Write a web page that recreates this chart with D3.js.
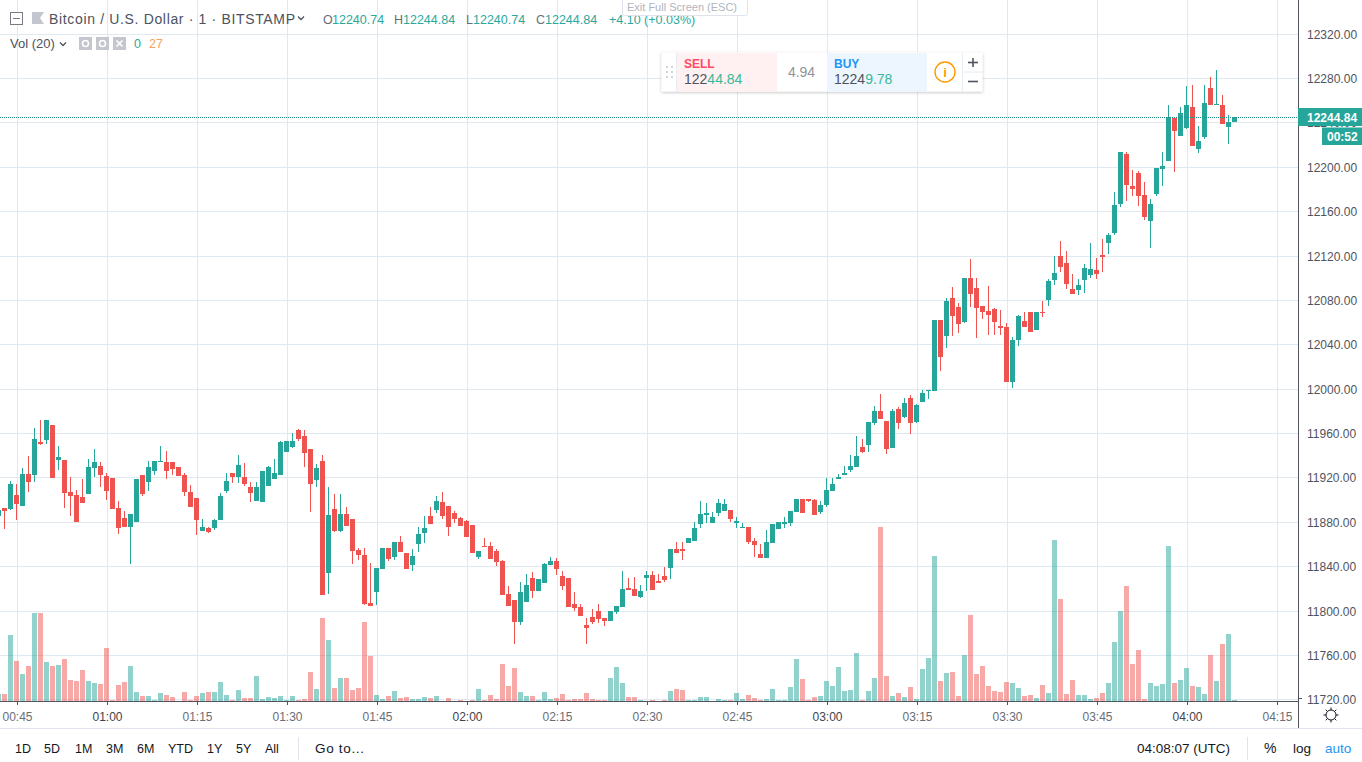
<!DOCTYPE html>
<html><head><meta charset="utf-8">
<script src="https://cdn.jsdelivr.net/npm/d3@7/dist/d3.min.js"></script>
<style>html,body{margin:0;padding:0;background:#fff;overflow:hidden}svg{display:block}text{font-family:"Liberation Sans",Arial,sans-serif}</style>
</head><body><svg id="c" width="1362" height="762"></svg>
<script>
const firstMinute = 42; // minutes after 00:00 of first bar, 00:42
const opens = [11885.6,11892.8,11891.9,11904.5,11894.6,11923.4,11922.5,11952.2,11954,11967.5,
11936,11936,11907.2,11904.5,11902.7,11905.4,11928.8,11930.6,11921.6,11919.8,
11892.8,11883.8,11875.7,11880.2,11922.5,11916.2,11926.1,11934.2,11934.2,11934.2,
11929.7,11922.5,11907.2,11901.8,11872.1,11874.8,11874.8,11882,11908.1,11924.3,
11920.7,11920.7,11911.7,11899.1,11898.2,11912.6,11918.9,11922.5,11943.2,11947.7,
11963,11957.6,11945.9,11918,11935,11834.3,11891.9,11872.1,11887.4,11882.9,
11855,11850.5,11807.3,11817.2,11837.9,11856.8,11848.7,11862.2,11852.3,11841.5,
11860.4,11870.3,11885.6,11891,11898.2,11894.6,11888.3,11883.8,11881.1,11877.5,
11848.7,11858.6,11858.6,11854.1,11845.1,11815.4,11810,11790.2,11808.2,11829.8,
11818.1,11825.3,11841.5,11845.1,11831.6,11829.8,11806.4,11803.7,11787.5,11794.7,
11800.1,11793.8,11791.1,11799.2,11803.7,11821.2,11820.3,11813.1,11830.2,11832.9,
11827.5,11832,11839.2,11856.3,11856.3,11861.7,11863.5,11878.8,11886.9,11879.7,
11888.7,11890.5,11891.4,11879.7,11875.2,11876.1,11863.5,11851.8,11848.2,11861.7,
11874.3,11878.8,11879.7,11889.6,11901.3,11901.3,11900.4,11889.6,11895.9,11908.5,
11919.3,11922.9,11927.4,11930.1,11948.1,11949.9,11969.7,11980.5,11971.5,11947.2,
11982.3,11975.1,11992.2,11970.6,11988,11997.9,11997.9,12062.7,12048.3,12082.5,
12074.4,12060.9,12100.5,12091.5,12075.3,12070.8,12072.6,12057.3,12056.4,12006,
12044.7,12061.8,12069.9,12053.7,12069.9,12080.7,12098.7,12120.3,12114,12090.6,
12089.7,12098.7,12103.2,12107.7,12121.2,12131.8,12140.8,12166.9,12211.9,12183.1,
12194.8,12175,12151.6,12175.9,12198.4,12205.6,12244.3,12228.1,12235.3,12254.2,
12216.4,12227.2,12271.3,12256,12256,12236.2,12240.74];
const highs = [11891,11892.8,11917.1,11914.4,11928.8,11939.6,11964.8,11972,11972,11967.5,
11948.6,11936,11920.7,11909,11918.9,11936.9,11945.9,11934.2,11924.3,11919.8,
11899.1,11890.1,11887.4,11918.9,11922.5,11935.1,11935.1,11948.6,11944.1,11934.2,
11929.7,11924.3,11913.5,11901.8,11882.9,11875.7,11882.9,11906.3,11924.3,11924.3,
11940.5,11933.3,11916.2,11916.2,11926.1,11930.6,11936.9,11953.1,11953.1,11960.3,
11963.9,11963,11945.9,11932.4,11941,11911.7,11905.4,11905.4,11893.7,11882.9,
11856.8,11856.8,11843.3,11838.8,11856.8,11856.8,11862.2,11867.6,11852.3,11855.9,
11875.7,11885.6,11893.7,11903.6,11907.2,11894.6,11890.1,11884.7,11882,11877.5,
11854.1,11865.8,11862.2,11855.9,11846,11822.6,11810,11826.2,11833.4,11835.2,
11828.9,11843.3,11848.7,11847.8,11836.1,11829.8,11817.2,11806.4,11793.8,11801.9,
11806.4,11793.8,11800.1,11804.6,11836.1,11830.2,11831.1,11823.9,11836.5,11836.5,
11833.8,11840.1,11856.3,11862.6,11862.6,11866.2,11880.6,11899.5,11897.7,11889.6,
11901.3,11901.3,11891.4,11885.1,11879.7,11876.1,11866.2,11860.8,11873.4,11878.8,
11880.6,11885.1,11890.5,11901.3,11901.3,11901.3,11901.3,11899.5,11920.2,11920.2,
11923.8,11931,11940.9,11958,11955.3,11970.6,11985,11995.8,11971.5,11982.3,
11984.1,11992.2,11994.9,11986.8,11998.8,11998.8,12062.7,12062.7,12082.5,12092.4,
12078,12100.5,12117.6,12100.5,12075.3,12093.3,12073.5,12071.7,12060,12047.4,
12067.2,12069.9,12069.9,12069.9,12079.8,12099.6,12120.3,12133.8,12124.8,12104.1,
12099.6,12113.1,12132,12118.5,12135.6,12140.8,12177.7,12213.7,12213.7,12197.5,
12196.6,12186.7,12171.4,12199.3,12213.7,12256,12244.3,12254.2,12273.1,12274,
12237.1,12274,12281.2,12287.5,12265,12247,12244.84];
const lows = [11885.6,11873.9,11891,11882,11894.6,11907.2,11916.2,11949.5,11950.4,11919.8,
11927,11892.8,11885.6,11880.2,11897.3,11905.4,11920.7,11911.7,11900,11891.9,
11869.4,11875.7,11842.4,11880.2,11903.6,11908.1,11922.5,11934.2,11918.9,11922.5,
11921.6,11903.6,11893.7,11868.5,11872.1,11870.3,11873,11882,11906.3,11915.3,
11915.3,11912.6,11898.2,11899.1,11898.2,11912.6,11918.9,11922.5,11943.2,11946.8,
11953.1,11929.7,11889.2,11911.7,11814.5,11815.4,11871.2,11871.2,11876.6,11842.4,
11846,11805.5,11804.6,11805.5,11837.9,11845.1,11846,11853.2,11837.9,11836.1,
11853.2,11861.3,11878.4,11888.3,11882.9,11867.6,11879.3,11876.6,11866.7,11852.3,
11846.9,11857.7,11846.9,11840.6,11814.5,11804.6,11770.4,11787.5,11808.2,11811.8,
11818.1,11825.3,11841.5,11832.5,11819,11803.7,11800.1,11795.6,11770.4,11788.4,
11789.3,11786.6,11791.1,11797.4,11803.7,11819.4,11814,11812.2,11818.5,11819.4,
11825.7,11826.6,11829.3,11852.7,11846.4,11861.7,11863.5,11875.2,11879.7,11879.7,
11886,11890.5,11880.6,11875.2,11875.2,11860.8,11849.1,11848.2,11848.2,11861.7,
11874.3,11875.2,11877,11889.6,11888.7,11898.6,11886.9,11887.8,11894.1,11908.5,
11919.3,11922.9,11925.6,11930.1,11942.7,11943.6,11967.9,11973.3,11941.8,11947.2,
11964.3,11974.2,11959.8,11969.7,11988,11990.7,11997.9,12016.8,12037.5,12048.3,
12051,12060,12074.4,12046.5,12063.6,12049.2,12049.2,12049.2,12006,12000.6,
12039.3,12056.4,12051.9,12053.7,12065.4,12075.3,12094.2,12105.9,12090.6,12086.1,
12085.2,12087,12100.5,12099.6,12105.9,12121.9,12139,12164.2,12169.6,12174.1,
12165.1,12152.5,12127.3,12174.1,12183.1,12205.6,12195.7,12228.1,12234.4,12219.1,
12212.8,12225.4,12256,12256,12238.9,12220.9,12240.74];
const closes = [11891,11890.1,11914.4,11896.4,11923.4,11916.2,11954.9,11950.4,11972,11919.8,
11938.7,11906.3,11903.6,11880.2,11897.3,11929.7,11934.2,11922.5,11908.1,11891.9,
11874.8,11875.7,11887.4,11918.9,11905.4,11929.7,11935.1,11935.1,11926.1,11927.9,
11921.6,11907.2,11893.7,11882,11875.7,11871.2,11882,11903.6,11917.1,11920.7,
11931.5,11914.4,11906.3,11911.7,11926.1,11929.7,11924.3,11952.2,11953.1,11953.1,
11954.9,11942.3,11914.4,11928.8,11814.5,11886.5,11872.1,11887.4,11876.6,11854.1,
11850.5,11806.4,11804.6,11838.8,11856.8,11846.9,11862.2,11853.2,11837.9,11849.6,
11869.4,11874.8,11878.4,11899.1,11885.6,11875.7,11882.9,11876.6,11866.7,11852.3,
11854.1,11857.7,11846.9,11844.2,11814.5,11804.6,11790.2,11817.2,11823.5,11818.1,
11828.9,11842.4,11845.1,11837.9,11822.6,11803.7,11802.8,11795.6,11784.8,11790.2,
11792.9,11791.1,11800.1,11804.6,11819.9,11819.4,11814,11818.5,11832.9,11819.4,
11825.7,11828.4,11856.3,11852.7,11854.5,11866.2,11875.2,11887.8,11888.7,11885.1,
11897.7,11896.8,11883.3,11881.5,11876.1,11862.6,11859.9,11848.2,11862.6,11878.8,
11880.6,11880.6,11890.5,11901.3,11888.7,11899.5,11886.9,11895.9,11909.4,11914.8,
11921.1,11924.7,11931,11940,11943.6,11970.6,11980.5,11973.3,11946.3,11980.5,
11969.7,11987.7,11969.7,11985.9,11996.1,11998.8,12062.7,12029.4,12079.8,12066.3,
12059.1,12100.5,12086.1,12073.5,12069.9,12067.2,12060.9,12055.5,12006,12044.7,
12066.3,12056.4,12051.9,12069.9,12069,12097.8,12105,12110.4,12095.1,12086.1,
12094.2,12109.5,12108.6,12104.1,12119.4,12139,12166,12213.7,12184,12180.4,
12174.1,12155.2,12166.9,12199.3,12201.1,12245.2,12232.6,12248.8,12256,12219.1,
12223.6,12257.8,12256,12256.9,12238.9,12240.7,12244.84];
const volumes = [7,7,66,40,27,35,88,88,39,35,
36,42,21,20,31,20,18,17,53,1,
16,19,35,9,5,5,1,8,6,4,
.5,9,1,5,8,9,9,19,6,1,
11,3,3,25,2,4,3,5,1,5,
1,2,29,12,83,61,13,23,23,11,
13,79,45,6,2,5,10,3,4,2,
2,4,3,5,.3,3,.3,1,.3,1,
12,1,6,2,37,15,33,9,5,5,
1,9,2,3,7,1,2,2,8,2,
1,1,23,34,18,4,4,1,.3,1,
.3,1,10,12,11,1,1,4,4,.3,
2,1,1,8,2,6,3,1,2,12,
1,1,14,42,22,1,4,5,20,15,
34,10,11,48,1,10,23,174,25,5,
8,4,14,2,32,43,145,20,28,29,
5,46,86,27,35,15,10,9,19,18,
13,5,6,3,16,8,161,102,7,21,
6,6,2,3,8,18,59,90,115,37,
51,2,18,15,17,155,18,21,33,15,
14,7,46,20,57,67,1];
const priceTicks = [12320,12280,12240,12200,12160,12120,12080,12040,12000,11960,11920,11880,11840,11800,11760,11720];
const timeTicks = [[45,"00:45"],[60,"01:00"],[75,"01:15"],[90,"01:30"],[105,"01:45"],[120,"02:00"],[135,"02:15"],[150,"02:30"],[165,"02:45"],[180,"03:00"],[195,"03:15"],[210,"03:30"],[225,"03:45"],[240,"04:00"],[255,"04:15"]];
const lastPrice = 12244.84;
const rangeLabels = [["1D",15],["5D",44],["1M",75],["3M",106],["6M",137],["YTD",168],["1Y",207],["5Y",236],["All",265]];

const UP="#26a69a", DOWN="#ef5350", GRID="#e1e9f0", AXIS="#50535e", TXT="#4f5360";
const svg=d3.select("#c");
const x=d3.scaleLinear().domain([45,255]).range([16.5,1276.5]);
const y=d3.scaleLinear().domain([11720,12320]).range([699.8,34.1]);
const v=d3.scaleLinear().domain([0,174]).range([701,527]);
const bars=opens.map((o,i)=>({m:firstMinute+i,o,h:highs[i],l:lows[i],c:closes[i],vol:volumes[i],up:closes[i]>=o}));
const px=n=>Math.floor(n)+.5;

function T(s,xp,yp,o={}){const t=svg.append("text").attr("x",xp).attr("y",yp).attr("font-size",o.size||13).attr("fill",o.fill||"#131722")
  .attr("text-anchor",o.anchor||"start").attr("font-weight",o.weight||"normal").text(s);
  if(o.len)t.attr("textLength",o.len).attr("lengthAdjust","spacing");return t;}
function L(a,b,c,d,col,w=1){return svg.append("line").attr("x1",a).attr("y1",b).attr("x2",c).attr("y2",d).attr("stroke",col).attr("stroke-width",w);}
function R(a,b,w,h,f,s){const r=svg.append("rect").attr("x",a).attr("y",b).attr("width",w).attr("height",h).attr("fill",f);if(s)r.attr("stroke",s);return r;}

// grid
svg.append("g").selectAll("line").data(priceTicks).join("line").attr("x1",0).attr("x2",1298)
  .attr("y1",d=>px(y(d))).attr("y2",d=>px(y(d))).attr("stroke",GRID);
svg.append("g").selectAll("line").data(timeTicks).join("line").attr("y1",0).attr("y2",701)
  .attr("x1",d=>px(x(d[0])+1)).attr("x2",d=>px(x(d[0])+1)).attr("stroke",GRID);

// volume
const bx=d=>Math.floor(x(d.m))-2;
svg.append("g").selectAll("rect").data(bars).join("rect")
  .attr("x",bx).attr("width",5).attr("y",d=>Math.round(v(d.vol))).attr("height",d=>Math.max(1,701-Math.round(v(d.vol))))
  .attr("fill",d=>d.up?UP:DOWN).attr("fill-opacity",.5);

// candles
svg.append("g").selectAll("rect").data(bars).join("rect")
  .attr("x",d=>Math.floor(x(d.m))).attr("width",1).attr("y",d=>Math.round(y(d.h))).attr("height",d=>Math.max(1,Math.round(y(d.l))-Math.round(y(d.h))))
  .attr("fill",d=>d.up?UP:DOWN);
svg.append("g").selectAll("rect").data(bars).join("rect")
  .attr("x",bx).attr("width",5).attr("y",d=>Math.round(y(Math.max(d.o,d.c))))
  .attr("height",d=>Math.max(1,Math.round(y(Math.min(d.o,d.c)))-Math.round(y(Math.max(d.o,d.c)))))
  .attr("fill",d=>d.up?UP:DOWN);

// last price line
L(0,px(y(lastPrice)),1298,px(y(lastPrice)),"#1b8f84").attr("stroke-dasharray","1 1");

// axes chrome
R(0,702,1362,60,"#fff"); R(1299,0,63,702,"#fff");
L(0,701.5,1298,701.5,AXIS); L(1298.5,0,1298.5,728,AXIS);
L(0,728.5,1362,728.5,"#e0e3eb");
L(1298,px(y(11720))-1,1302,px(y(11720))-1,AXIS);
svg.append("g").selectAll("text").data(priceTicks).join("text").attr("x",1307).attr("y",d=>px(y(d))+4.5)
  .attr("font-size",12).attr("fill",TXT).text(d=>d.toFixed(2));
svg.append("g").selectAll("line").data(timeTicks).join("line").attr("y1",702).attr("y2",705)
  .attr("x1",d=>px(x(d[0])+1)).attr("x2",d=>px(x(d[0])+1)).attr("stroke",AXIS);
svg.append("g").selectAll("text").data(timeTicks).join("text").attr("x",d=>x(d[0])+1).attr("y",721).attr("text-anchor","middle")
  .attr("font-size",12).attr("fill",d=>d[0]%60==0?"#3f434e":"#6a6d78").text(d=>d[1]);

// price tags
R(1298,108,64,18,UP);
T(lastPrice.toFixed(2),1307,121.5,{size:12,fill:"#fff",weight:"bold"});
R(1322,127.5,40,17.5,UP);
T("00:52",1327,141,{size:12,fill:"#fff",weight:"bold"});

// sun icon
const sun=svg.append("g").attr("transform","translate(1331,715)").attr("stroke","#131722").attr("fill","none");
sun.append("circle").attr("r",5);
for(let a=0;a<8;a++){const r=a*Math.PI/4;sun.append("line").attr("x1",5*Math.cos(r)).attr("y1",5*Math.sin(r)).attr("x2",7.5*Math.cos(r)).attr("y2",7.5*Math.sin(r));}

// header legend
R(10.5,12.5,12,12,"#fff","#787b86");L(13,18.5,20,18.5,"#787b86");
svg.append("path").attr("d","M32 12H44L40 18L44 24H32Z").attr("fill","#c3c6ce");
T("Bitcoin / U.S. Dollar · 1 · BITSTAMP",49,24,{size:14,fill:"#4c525e",len:246});
svg.append("path").attr("d","M298 16.5L301 19.5L304 16.5").attr("stroke","#4c525e").attr("fill","none").attr("stroke-width",1.3);
const G="#2ba89b";
[["O",323,"12240.74"],["H",394,"12244.84"],["L",466,"12240.74"],["C",536,"12244.84"]].forEach(r=>{
  T(r[0],r[1],24,{size:12.5,fill:"#6a6d78"});
  T(r[2],r[1]+(r[0]=="L"?7:9),24,{size:12.5,fill:G});
});
T("+4.10 (+0.03%)",609,24,{size:12.5,fill:G});
T("Vol (20)",10,48,{size:13,fill:"#4c525e"});
svg.append("path").attr("d","M60 42.5L63 45.5L66 42.5").attr("stroke","#4c525e").attr("fill","none").attr("stroke-width",1.3);
[79,96,113].forEach((a,i)=>{R(a,37,13,13,"#c3c6ce");
  if(i<2)svg.append("circle").attr("cx",a+6.5).attr("cy",43.5).attr("r",3).attr("fill","none").attr("stroke","#fff").attr("stroke-width",1.6);
  else svg.append("path").attr("d",`M${a+3.5} 40.5L${a+9.5} 46.5M${a+9.5} 40.5L${a+3.5} 46.5`).attr("stroke","#fff").attr("stroke-width",1.6);});
T("0",134,48,{size:12.5,fill:G});T("27",149,48,{size:12.5,fill:"#f8a05f"});

// fullscreen tooltip
R(622.5,-4,125,19.5,"#fff","#e0e3eb").attr("rx",2);
T("Exit Full Screen (ESC)",627,10.5,{size:11,fill:"#b2b5be"});

// trade widget
svg.append("defs").html('<filter id="sh" x="-5%" y="-20%" width="110%" height="150%"><feDropShadow dx="0" dy="1" stdDeviation="1.5" flood-color="#000" flood-opacity=".25"/></filter>');
R(661.5,52.5,321,39,"#fff").attr("filter","url(#sh)");
R(677,53,100,38.5,"#fff0f1");R(827,53,100,38.5,"#edf6fe");
L(676.5,53,676.5,92,"#e6ecf2");L(962.5,53,962.5,92,"#e6ecf2");L(963,72,983,72,"#e6ecf2");
[0,1].forEach(i=>[0,1,2].forEach(j=>R(666+i*5,66+j*5,2,2,"#d1d4dc")));
T("SELL",684,68,{size:12,fill:"#ff4a68",weight:"bold"});
const a1=T("122",684,84,{size:14,fill:"#50535e"});a1.append("tspan").attr("fill","#37b99a").text("44.84");
T("4.94",801.5,77,{size:14,fill:"#909399",anchor:"middle"});
T("BUY",834,68,{size:12,fill:"#2196f3",weight:"bold"});
const a2=T("1224",834,84,{size:14,fill:"#50535e"});a2.append("tspan").attr("fill","#37b99a").text("9.78");
svg.append("circle").attr("cx",945).attr("cy",72).attr("r",10).attr("fill","none").attr("stroke","#ff9800").attr("stroke-width",1.4);
T("i",945,77,{size:13,fill:"#ff9800",anchor:"middle",weight:"bold"});
L(968,62.5,978,62.5,"#50535e",1.6);L(973,58,973,67,"#50535e",1.6);L(968,81.5,978,81.5,"#50535e",1.6);

// bottom bar
rangeLabels.forEach(r=>T(r[0],r[1],753,{size:12.5,fill:"#131722"}));
L(298.5,737,298.5,760,"#e0e3eb");
T("Go to...",315,753,{size:13.5,len:49});
T("04:08:07 (UTC)",1137,753,{size:13.5});
L(1247.5,737,1247.5,760,"#e0e3eb");
T("%",1264,753,{size:14});
T("log",1293,753,{size:13.5});
T("auto",1325,753,{size:13.5,fill:"#2196f3"});
</script></body></html>
